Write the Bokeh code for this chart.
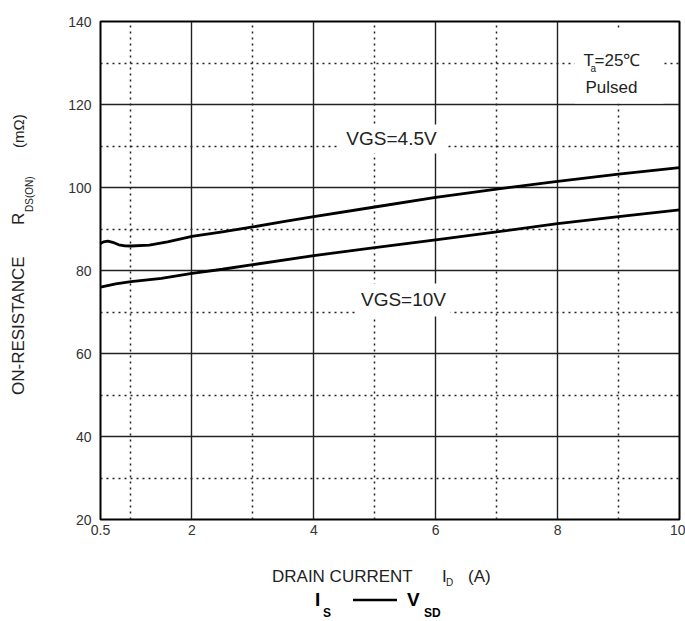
from bokeh.plotting import figure
from bokeh.models import Label, BoxAnnotation, FixedTicker, Div
from bokeh.layouts import row, column
from bokeh.embed import file_html
from bokeh.resources import INLINE

# ---- data ----
x_ticks = [0.5, 2, 4, 6, 8, 10]
x_minor = [1, 3, 5, 7, 9]
y_ticks = [20, 40, 60, 80, 100, 120, 140]
y_minor = [30, 50, 70, 90, 110, 130]

vgs45_x = [0.5, 0.55, 0.62, 0.7, 0.8, 0.9, 1.0, 1.3, 1.6, 2.0, 2.5, 3.0, 3.5, 4.0, 5.0, 6.0, 7.0, 8.0, 9.0, 10.0]
vgs45_y = [86.5, 86.9, 87.1, 86.8, 86.2, 85.95, 85.9, 86.1, 86.9, 88.2, 89.3, 90.5, 91.8, 93.0, 95.3, 97.6, 99.6, 101.5, 103.2, 104.8]

vgs10_x = [0.5, 0.75, 1.0, 1.5, 2.0, 2.5, 3.0, 4.0, 5.0, 6.0, 7.0, 8.0, 9.0, 10.0]
vgs10_y = [76.0, 76.8, 77.3, 78.1, 79.3, 80.3, 81.4, 83.6, 85.5, 87.4, 89.3, 91.3, 93.0, 94.6]

FONT = "Liberation Sans"

YDIV_W = 44
FIG_W, FIG_H = 641, 550

p = figure(width=FIG_W, height=FIG_H, x_range=(0.5, 10), y_range=(20, 140),
           output_backend="svg", toolbar_location=None,
           min_border_left=56, min_border_right=6, min_border_top=21, min_border_bottom=31)

p.background_fill_color = "white"
p.border_fill_color = "white"
p.outline_line_color = "black"
p.outline_line_width = 2

xt = FixedTicker(ticks=x_ticks, minor_ticks=x_minor)
yt = FixedTicker(ticks=y_ticks, minor_ticks=y_minor)
p.xaxis.ticker = xt
p.yaxis.ticker = yt
p.xgrid.ticker = xt
p.ygrid.ticker = yt

for g in (p.xgrid, p.ygrid):
    g.grid_line_color = "#222222"
    g.grid_line_width = 1.4
    g.grid_line_alpha = 1
    g.minor_grid_line_color = "#222222"
    g.minor_grid_line_width = 1.5
    g.minor_grid_line_dash = "2 4"

p.axis.axis_line_color = None
p.axis.major_tick_line_color = None
p.axis.minor_tick_line_color = None
p.axis.major_tick_out = 0
p.axis.minor_tick_out = 0
p.axis.major_tick_in = 0
p.axis.minor_tick_in = 0
p.axis.major_label_text_font = FONT
p.axis.major_label_text_font_size = "14px"
p.axis.major_label_text_color = "#333333"
p.yaxis.major_label_standoff = 9
p.xaxis.major_label_standoff = 5
p.xaxis.major_label_overrides = {0.5: "0.5", 2: "2", 4: "4", 6: "6", 8: "8", 10: "10"}

# curves
p.line(vgs45_x, vgs45_y, line_color="black", line_width=2.8)
p.line(vgs10_x, vgs10_y, line_color="black", line_width=2.8)

# mapping from reference pixel positions (page) to data coordinates (for annotations)
def X(px):
    return 0.5 + (px - 100) / 579 * 9.5

def Y(py):
    return 20 + (519 - py) / 498 * 120

# white boxes behind the in-plot texts
for (l, r, t, b) in [(337, 447, 124, 153), (355, 450, 283, 316), (574, 663, 28, 103)]:
    p.add_layout(BoxAnnotation(left=X(l), right=X(r), top=Y(t), bottom=Y(b),
                               fill_color="white", fill_alpha=1, line_color=None))

def lab(text, px, py, size, align="left", baseline="alphabetic"):
    p.add_layout(Label(x=X(px), y=Y(py), text=text, text_font=FONT,
                       text_font_size=f"{size}px", text_align=align, text_baseline=baseline,
                       text_color="#222222"))

# curve labels
lab("VGS=4.5V", 391, 138, 19, align="center", baseline="middle")
lab("VGS=10V", 403, 299, 19, align="center", baseline="middle")

# conditions box
lab("T", 583, 60, 17)
lab("a", 590, 68, 10)
lab("=25\u2103", 594, 60, 17)
lab("Pulsed", 585, 87, 17)

# ---- y axis title (rotated, with subscript) ----
def rtext(t, x, y, size, weight="normal"):
    return (f'<text x="{x}" y="{y}" transform="rotate(-90,{x},{y})" '
            f'font-family="{FONT}" font-size="{size}" font-weight="{weight}" fill="#222222">{t}</text>')

ysvg = (f'<svg xmlns="http://www.w3.org/2000/svg" width="{YDIV_W}" height="{FIG_H}" style="display:block">'
        + rtext("ON-RESISTANCE", 24, 395, 17)
        + rtext("R", 24, 225, 17)
        + rtext("DS(ON)", 33, 212, 10)
        + rtext("(m\u03a9)", 24, 148, 15)
        + '</svg>')
ydiv = Div(text=ysvg, width=YDIV_W, height=FIG_H, margin=0)

# ---- x axis title and caption ----
BOT_H = 621 - FIG_H
def htext(t, x, y, size, weight="normal", fill="#222222"):
    return (f'<text x="{x}" y="{y - FIG_H}" font-family="{FONT}" font-size="{size}" '
            f'font-weight="{weight}" fill="{fill}">{t}</text>')

bsvg = (f'<svg xmlns="http://www.w3.org/2000/svg" width="685" height="{BOT_H}" style="display:block">'
        + htext("DRAIN CURRENT", 272, 582, 17)
        + htext("I", 442, 582, 17)
        + htext("D", 446, 586, 10)
        + htext("(A)", 468, 582, 17)
        + htext("I", 315, 606, 19, "bold", "black")
        + htext("S", 323, 617, 12, "bold", "black")
        + f'<line x1="353" x2="397" y1="{600 - FIG_H}" y2="{600 - FIG_H}" stroke="black" stroke-width="2.5"/>'
        + htext("V", 407, 606, 19, "bold", "black")
        + htext("SD", 424, 617, 12, "bold", "black")
        + '</svg>')
bdiv = Div(text=bsvg, width=685, height=BOT_H, margin=0)

layout = column(row(ydiv, p), bdiv)

open("out.html", "w").write(file_html(layout, INLINE))
